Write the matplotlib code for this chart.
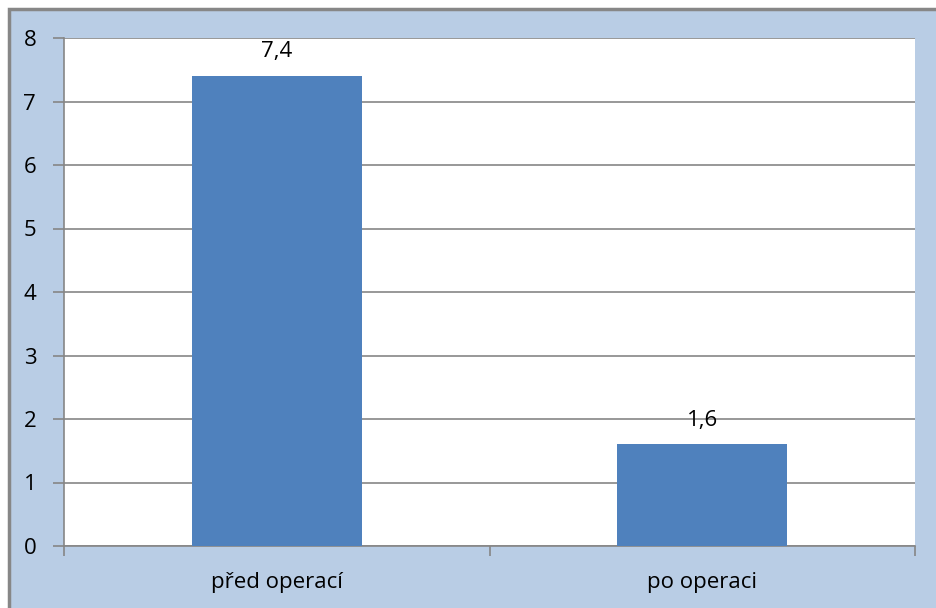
import matplotlib
matplotlib.use("Agg")
import matplotlib.pyplot as plt
from matplotlib.patches import Rectangle

categories = ["před operací", "po operaci"]
values = [7.4, 1.6]
value_labels = ["7,4", "1,6"]
y_ticks = [0, 1, 2, 3, 4, 5, 6, 7, 8]

W, H = 936, 608
fig = plt.figure(figsize=(W / 100, H / 100), dpi=100)
fig.patch.set_facecolor("white")

# chart frame: pale blue panel with grey border on top and left
frame = Rectangle((9 / W, -0.1), 1.2, 1.1 - 9 / H, transform=fig.transFigure,
                  facecolor="#B9CDE5", edgecolor="#878787", linewidth=2.5,
                  zorder=-10, clip_on=False)
fig.add_artist(frame)

left, right, top, bottom = 64, 915, 38, 546
ax = fig.add_axes([left / W, 1 - bottom / H, (right - left) / W, (bottom - top) / H])
ax.set_zorder(5)
ax.set_facecolor("white")

x = list(range(len(categories)))
ax.bar(x, values, width=0.4, color="#4F81BD", zorder=3)

font = "Open Sans"
fs = 16
for xi, v, lab in zip(x, values, value_labels):
    ax.annotate(lab, (xi, v), xytext=(0, 10), textcoords="offset points",
                ha="center", va="bottom", fontsize=fs, family=font, color="black")

ax.set_xlim(-0.5, len(categories) - 0.5)
ax.set_ylim(0, 8)
ax.set_yticks(y_ticks)
ax.set_yticklabels([str(t) for t in y_ticks], family=font, fontsize=fs)
ax.yaxis.grid(True, color="#868686", linewidth=1.2, zorder=1)
ax.set_axisbelow(True)

ax.set_xticks([-0.5, 0.5, 1.5], minor=False)
ax.set_xticklabels([])
ax.set_xticks(x, minor=True)
ax.set_xticklabels(categories, minor=True, family=font, fontsize=fs)
ax.tick_params(axis="x", which="minor", length=0, pad=19)
ax.tick_params(axis="x", which="major", length=7, width=1.2, color="#868686", direction="out")
ax.tick_params(axis="y", length=8, width=1.2, color="#868686", direction="out", pad=12)

for side in ["top", "right"]:
    ax.spines[side].set_visible(False)
for side in ["left", "bottom"]:
    ax.spines[side].set_color("#868686")
    ax.spines[side].set_linewidth(1.2)

fig.savefig("out.png", dpi=100, facecolor=fig.get_facecolor())
